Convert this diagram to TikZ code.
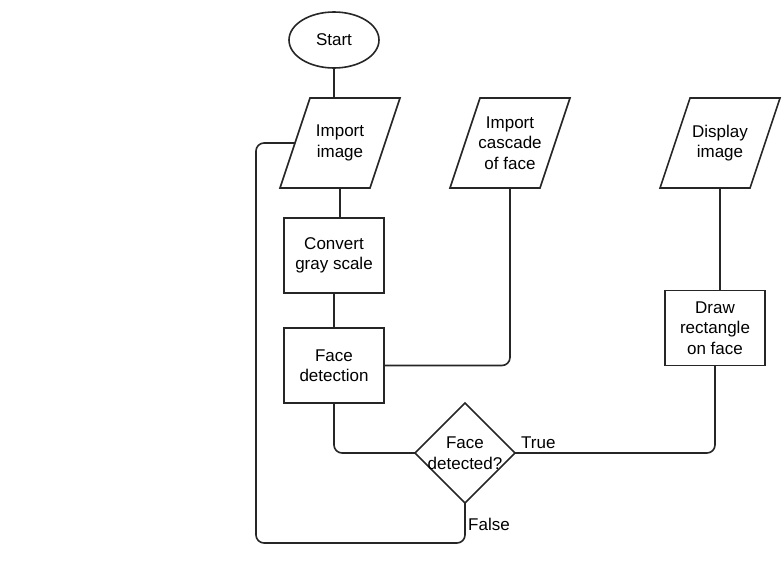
\documentclass[tikz,border=0pt]{standalone}
\usepackage{fontspec}
\setmainfont{Liberation Sans}
\usetikzlibrary{shapes.geometric,calc}
\definecolor{ln}{HTML}{262626}
\tikzset{
  txt/.style={align=center,font=\fontsize{17}{20.5}\selectfont,inner sep=0pt,outer sep=0pt},
  procbox/.style={txt,draw=ln,line width=1.6pt,minimum width=100pt,minimum height=75pt},
  iobox/.style={txt,minimum width=120pt,minimum height=90pt},
  termbox/.style={txt,ellipse,draw=ln,line width=1.6pt,minimum width=90pt,minimum height=56pt},
  decbox/.style={diamond,draw=ln,line width=1.6pt,minimum width=100pt,minimum height=100pt,inner sep=0pt,outer sep=0pt},
  conn/.style={draw=ln,line width=1.6pt,rounded corners=8pt},
  lbl/.style={font=\fontsize{17}{20.5}\selectfont,inner sep=0pt,anchor=west}
}
\newcommand{\paral}[1]{\draw[draw=ln,line width=1.6pt,line join=miter] ([xshift=30pt]#1.north west) -- (#1.north east) -- ([xshift=-30pt]#1.south east) -- (#1.south west) -- cycle;}
\begin{document}
\begin{tikzpicture}[x=1pt,y=-1pt]
\useasboundingbox (0,0) rectangle (784,568);
\node[termbox] (start) at (334,40) {Start};
\node[iobox] (imp) at (340,143) {Import\\image};
\paral{imp}
\node[iobox] (casc) at (510,143) {Import\\cascade\\of face};
\paral{casc}
\node[iobox] (disp) at (720,143) {Display\\image};
\paral{disp}
\node[procbox] (conv) at (334,255.5) {Convert\\gray scale};
\node[procbox] (det) at (334,365.5) {Face\\detection};
\node[procbox] (drw) at (715,328) {Draw\\rectangle\\on face};
\node[decbox] (dia) at (465,453) {};
\node[txt] (diat) at (dia.center) {Face\\detected?};
\coordinate (impL) at ($(imp.west)+(15,0)$);
\coordinate (loopc) at (256,543);
\path[conn] (start.south) -- (start.south |- imp.north);
\path[conn] (imp.south) -- (imp.south |- conv.north);
\path[conn] (conv.south) -- (det.north);
\path[conn] (det.south) |- (dia.west);
\path[conn] (det.east) -| (casc.south);
\path[conn] (dia.east) -| (drw.south);
\path[conn] (disp.south) -- (disp.south |- drw.north);
\path[conn] (dia.south) |- (loopc) |- (impL);
\node[lbl] (tl) at (521,443) {True};
\node[lbl] (fl) at (468,524) {False};
\end{tikzpicture}
\end{document}
